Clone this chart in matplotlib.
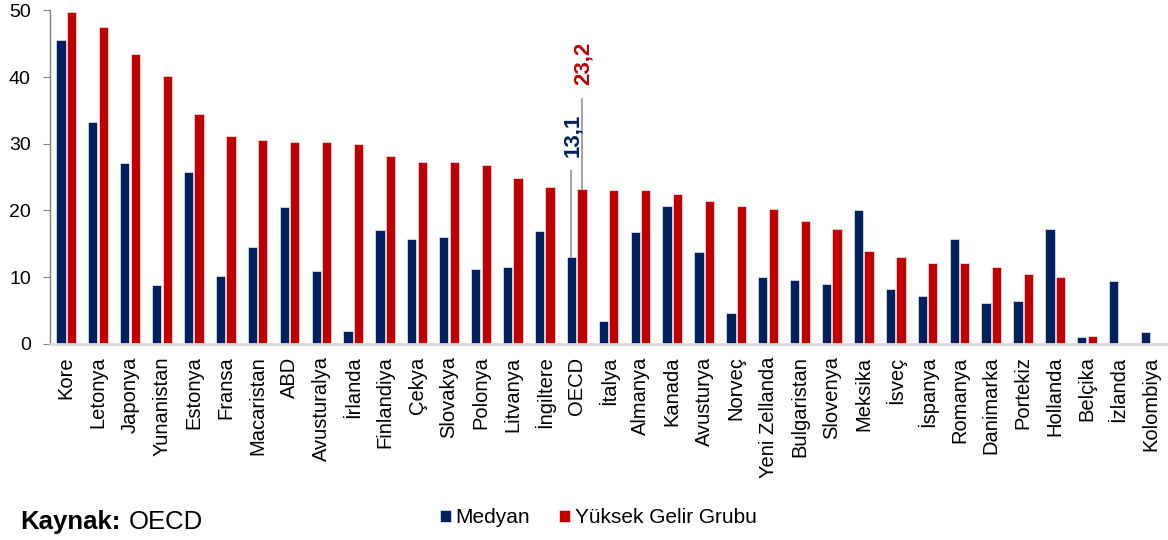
import numpy as np
import matplotlib
matplotlib.use('Agg')
import matplotlib.pyplot as plt

plt.rcParams['font.family'] = ['Liberation Sans', 'DejaVu Sans']

countries = ['Kore', 'Letonya', 'Japonya', 'Yunanistan', 'Estonya', 'Fransa',
             'Macaristan', 'ABD', 'Avusturalya', 'İrlanda', 'Finlandiya', 'Çekya',
             'Slovakya', 'Polonya', 'Litvanya', 'İngiltere', 'OECD', 'İtalya',
             'Almanya', 'Kanada', 'Avusturya', 'Norveç', 'Yeni Zellanda',
             'Bulgaristan', 'Slovenya', 'Meksika', 'İsveç', 'İspanya', 'Romanya',
             'Danimarka', 'Portekiz', 'Hollanda', 'Belçika', 'İzlanda', 'Kolombiya']
medyan = [45.5, 33.2, 27.1, 8.8, 25.8, 10.2, 14.6, 20.5, 10.9, 2.0, 17.1, 15.7,
          16.0, 11.3, 11.5, 16.9, 13.1, 3.4, 16.8, 20.6, 13.8, 4.7, 10.1,
          9.6, 9.0, 20.0, 8.3, 7.2, 15.8, 6.2, 6.5, 17.3, 1.0, 9.5, 1.8]
yuksek = [49.8, 47.5, 43.5, 40.1, 34.4, 31.1, 30.6, 30.3, 30.2, 29.9, 28.1, 27.3,
          27.2, 26.8, 24.9, 23.5, 23.2, 23.0, 23.0, 22.4, 21.4, 20.7, 20.2,
          18.4, 17.2, 13.9, 13.0, 12.1, 12.1, 11.5, 10.5, 10.0, 1.2, 0, 0]

navy = '#002060'
red = '#c00000'

fig = plt.figure(figsize=(11.68, 5.40), dpi=100)
ax = fig.add_axes([0.043, 0.363, 0.956, 0.618])

x = np.arange(len(countries))
w = 0.29
off = 0.165
ax.bar(x - off, medyan, w, color=navy, edgecolor='white', linewidth=0.4, label='Medyan')
ax.bar(x + off, yuksek, w, color=red, edgecolor='white', linewidth=0.4, label='Yüksek Gelir Grubu')

ax.set_xlim(-0.5, len(countries) - 0.5)
ax.set_ylim(0, 50)
ax.set_yticks(range(0, 51, 10))
ax.tick_params(axis='y', labelsize=14, length=5, color='#7f7f7f', pad=9)
ax.set_xticks(x)
ax.set_xticklabels(countries, rotation=90, fontsize=14.5)
ax.tick_params(axis='x', length=0, pad=9)

for s in ['top', 'right']:
    ax.spines[s].set_visible(False)
ax.spines['left'].set_color('#7f7f7f')
ax.spines['left'].set_linewidth(1)
ax.spines['bottom'].set_color('#d9d9d9')
ax.spines['bottom'].set_linewidth(2)

# OECD annotations
i = countries.index('OECD')
ax.plot([i - off, i - off], [medyan[i], 25.9], color='#a6a6a6', lw=1.5)
ax.plot([i + off, i + off], [yuksek[i], 36.7], color='#a6a6a6', lw=1.5)
ax.text(i - off + 0.03, 28.0, f'{medyan[i]:.1f}'.replace('.', ','), rotation=90,
        ha='center', va='bottom', color=navy, fontsize=16, fontweight='bold')
ax.text(i + off + 0.03, 38.8, f'{yuksek[i]:.1f}'.replace('.', ','), rotation=90,
        ha='center', va='bottom', color=red, fontsize=16, fontweight='bold')

fig.legend(loc='center', bbox_to_anchor=(0.512, 0.041), ncol=2, frameon=False,
           fontsize=15, handlelength=0.55, handleheight=0.55, handletextpad=0.2,
           columnspacing=1.4)

fig.text(0.017, 0.033, 'Kaynak:', fontsize=18.5, fontweight='bold', va='center')
fig.text(0.110, 0.033, 'OECD', fontsize=18.5, va='center')

fig.savefig('out.png', dpi=100)
